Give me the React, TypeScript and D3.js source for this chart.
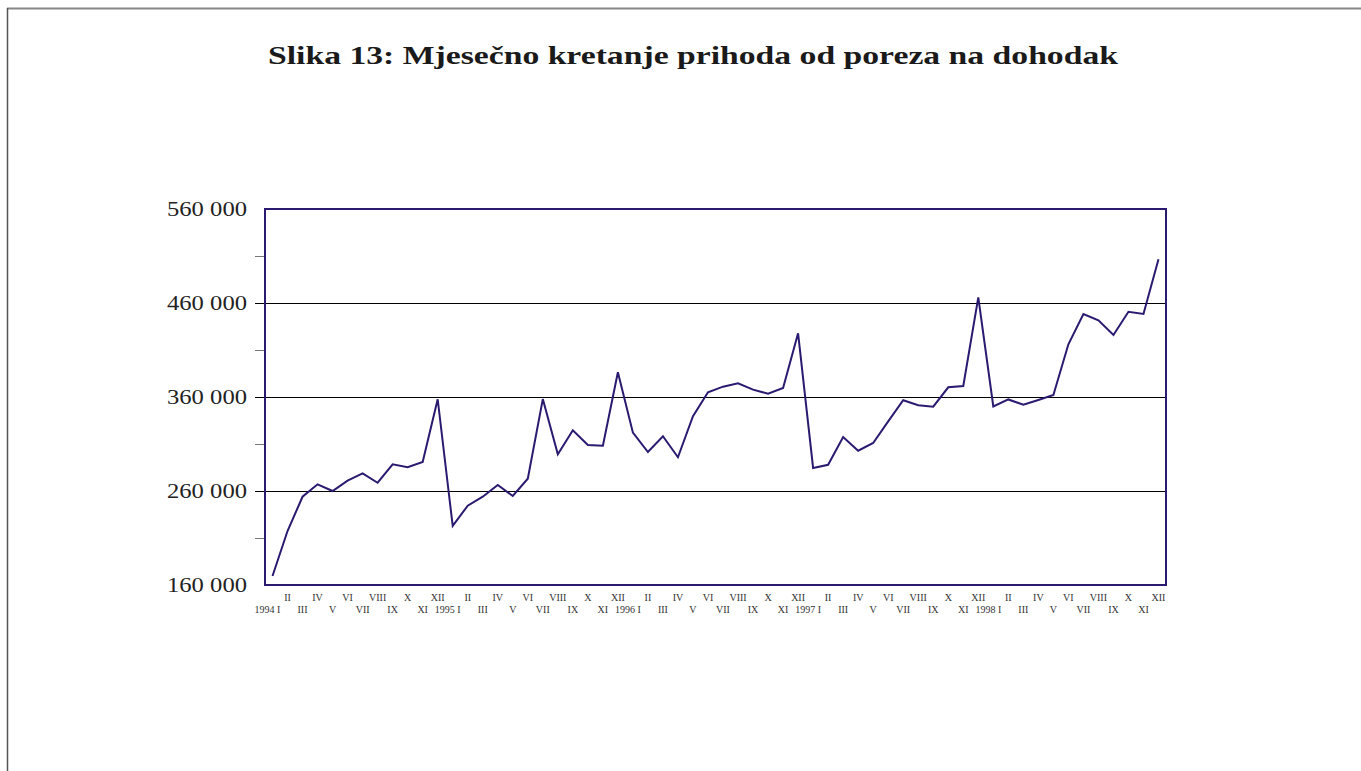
import React from "react";
import * as d3 from "d3";

const years = [1994, 1995, 1996, 1997, 1998];
const monthNames = ["I", "II", "III", "IV", "V", "VI", "VII", "VIII", "IX", "X", "XI", "XII"];

const values1994 = [169600, 217400, 253900, 267100, 260000, 271000, 278800, 268800, 288400, 285200, 290900, 357600];
const values1995 = [222800, 244400, 253900, 266400, 254700, 273100, 357800, 299000, 324600, 308900, 308200, 386300];
const values1996 = [322100, 301500, 318200, 295900, 339500, 365000, 371000, 374600, 367800, 363500, 369600, 427800];
const values1997 = [284500, 287900, 317400, 302900, 311100, 334100, 356500, 351200, 349700, 370300, 371700, 466000];
const values1998 = [349900, 357400, 351800, 356800, 362100, 416100, 448300, 441600, 426000, 450700, 448300, 506500];

const yTicks = [160000, 260000, 360000, 460000, 560000];
const yMinorTicks = [210000, 310000, 410000, 510000];
const yGridTicks = [260000, 360000, 460000];

const title = "Slika 13: Mjesečno kretanje prihoda od poreza na dohodak";

const W = 1361;
const H = 771;
const plot = { left: 265, right: 1166, top: 209, bottom: 585 };

const allValues = [...values1994, ...values1995, ...values1996, ...values1997, ...values1998];
const cats = years.flatMap((y) => monthNames.map((m, i) => ({ year: y, month: m, idx: i })));

const fmt = (v: number) => d3.format(",")(v).replace(/,/g, " ");

export default function App() {
  const x = d3
    .scaleBand<number>()
    .domain(cats.map((_, i) => i))
    .range([plot.left, plot.right])
    .padding(0);
  const y = d3.scaleLinear().domain([160000, 560000]).range([plot.bottom, plot.top]);
  const cx = (i: number) => (x(i) as number) + x.bandwidth() / 2;

  const line = d3
    .line<number>()
    .x((_, i) => cx(i))
    .y((d) => y(d));

  const lineColor = "#2b1a70";
  const serif = "'Liberation Serif', 'DejaVu Serif', serif";

  return (
    <svg
      width={W}
      height={H}
      style={{ position: "absolute", left: 0, top: 0, background: "#fff" }}
    >
      {/* outer frame */}
      <line x1={7} y1={8.5} x2={W} y2={8.5} stroke="#888" strokeWidth={2} />
      <line x1={7.5} y1={8} x2={7.5} y2={H} stroke="#555" strokeWidth={1.5} />

      <text
        x={268}
        y={64}
        fontFamily={serif}
        fontWeight="bold"
        fontSize={25}
        fill="#1a1a1a"
        textLength={850}
        lengthAdjust="spacingAndGlyphs"
      >
        {title}
      </text>

      {/* grid lines */}
      {yGridTicks.map((t) => (
        <line
          key={"g" + t}
          x1={255}
          x2={plot.right}
          y1={y(t) + 0.5}
          y2={y(t) + 0.5}
          stroke="#000"
          strokeWidth={1}
          shapeRendering="crispEdges"
        />
      ))}
      {yMinorTicks.map((t) => (
        <line
          key={"m" + t}
          x1={255}
          x2={plot.left}
          y1={y(t) + 0.5}
          y2={y(t) + 0.5}
          stroke="#777"
          strokeWidth={1}
          shapeRendering="crispEdges"
        />
      ))}

      {/* y labels */}
      {yTicks.map((t) => (
        <text
          key={"l" + t}
          x={167}
          y={y(t) + 7}
          fontFamily={serif}
          fontSize={20}
          fill="#222"
          textLength={80}
          lengthAdjust="spacingAndGlyphs"
        >
          {fmt(t)}
        </text>
      ))}

      {/* data line */}
      <path d={line(allValues) || ""} fill="none" stroke={lineColor} strokeWidth={2} strokeLinejoin="miter" />

      {/* plot frame */}
      <rect
        x={plot.left}
        y={plot.top}
        width={plot.right - plot.left}
        height={plot.bottom - plot.top}
        fill="none"
        stroke={lineColor}
        strokeWidth={2}
      />

      {/* x labels */}
      {cats.map((c, i) => {
        const even = (c.idx + 1) % 2 === 0;
        const label = c.idx === 0 ? `${c.year} I` : c.month;
        return (
          <text
            key={"x" + i}
            x={cx(i) + (c.idx === 0 ? -5 : 0)}
            y={even ? 601 : 613}
            textAnchor="middle"
            fontFamily={serif}
            fontSize={10}
            fill="#333"
          >
            {label}
          </text>
        );
      })}
    </svg>
  );
}
